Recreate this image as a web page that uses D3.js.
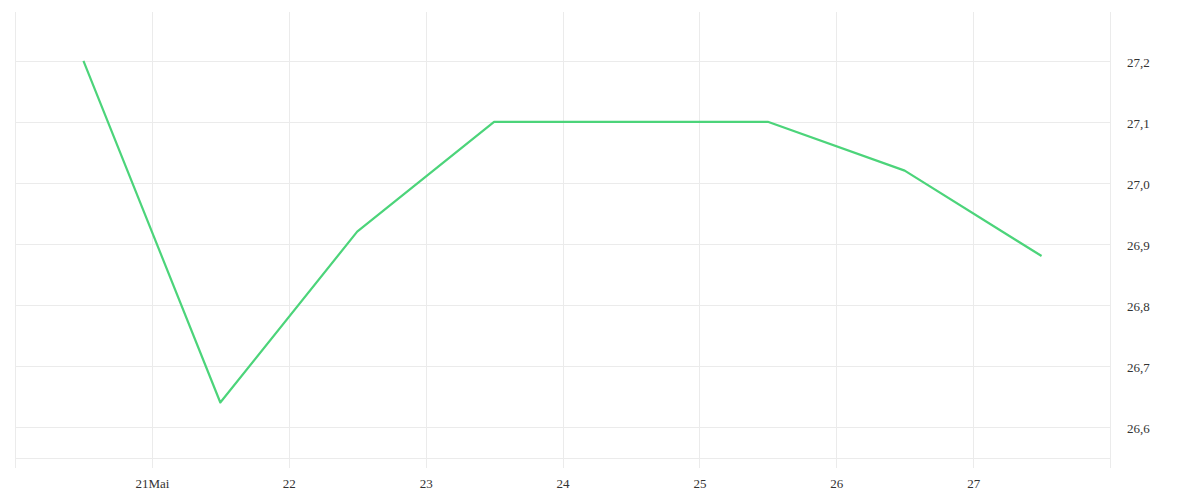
<!DOCTYPE html>
<html><head><meta charset="utf-8">
<script src="https://cdn.jsdelivr.net/npm/d3@7"></script>
<style>body{margin:0;background:#fff}svg{display:block}</style>
</head><body>
<svg id="c" width="1200" height="500"></svg>
<script>
const dates = ["2024-05-20T12:00","2024-05-21T12:00","2024-05-22T12:00","2024-05-23T12:00","2024-05-24T12:00","2024-05-25T12:00","2024-05-26T12:00","2024-05-27T12:00"];
const values = [27.2, 26.64, 26.92, 27.1, 27.1, 27.1, 27.02, 26.88];
const xTickDates = ["2024-05-21","2024-05-22","2024-05-23","2024-05-24","2024-05-25","2024-05-26","2024-05-27"];
const xTickLabels = ["21Mai","22","23","24","25","26","27"];
const yTicks = [26.6, 26.7, 26.8, 26.9, 27.0, 27.1, 27.2];
const yTickLabels = ["26,6","26,7","26,8","26,9","27,0","27,1","27,2"];

const svg = d3.select("#c");
const L = 15, R = 1110, T = 12, B = 458;
const parse = d3.isoParse;
const x = d3.scaleTime().domain([parse("2024-05-20T00:00"), parse("2024-05-28T00:00")]).range([L, R]);
const y = d3.scaleLinear().domain([26.549, 27.28]).range([B, T]);
const grid = "#ebebeb";
const font = "'Liberation Serif', 'DejaVu Serif', serif";

// horizontal grid
const hLines = [y.domain()[0]].concat(yTicks);
svg.append("g").selectAll("line").data(hLines).join("line")
  .attr("x1", L).attr("x2", R)
  .attr("y1", d => Math.round(y(d)) + 0.5).attr("y2", d => Math.round(y(d)) + 0.5)
  .attr("stroke", grid).attr("stroke-width", 1);

// vertical grid
const vEdges = [x.domain()[0], x.domain()[1]];
const vLines = vEdges.concat(xTickDates.map(parse));
svg.append("g").selectAll("line").data(vLines).join("line")
  .attr("x1", d => Math.round(x(d)) + 0.5).attr("x2", d => Math.round(x(d)) + 0.5)
  .attr("y1", T).attr("y2", B + 10)
  .attr("stroke", grid).attr("stroke-width", 1);

// x labels
const xAxis = d3.axisBottom(x).tickValues(xTickDates.map(parse))
  .tickFormat((d, i) => xTickLabels[i]).tickSize(0).tickPadding(0);
const gx = svg.append("g").attr("transform", `translate(0,${B + 30})`).call(xAxis);
gx.select(".domain").remove();
gx.selectAll("text").attr("dy", "0").attr("font-family", font).attr("font-size", 13).attr("fill", "#333");

// y labels
const yAxis = d3.axisRight(y).tickValues(yTicks)
  .tickFormat((d, i) => yTickLabels[i]).tickSize(0).tickPadding(0);
const gy = svg.append("g").attr("transform", `translate(${R + 17},0)`).call(yAxis);
gy.select(".domain").remove();
gy.selectAll("text").attr("font-family", font).attr("font-size", 13).attr("fill", "#333").attr("dy", "0.45em");

// line
const line = d3.line().x((d, i) => x(parse(dates[i]))).y(d => y(d));
svg.append("path").datum(values).attr("d", line)
  .attr("fill", "none").attr("stroke", "#4cd47a").attr("stroke-width", 2.2)
  .attr("stroke-linejoin", "round");
</script>
</body></html>
